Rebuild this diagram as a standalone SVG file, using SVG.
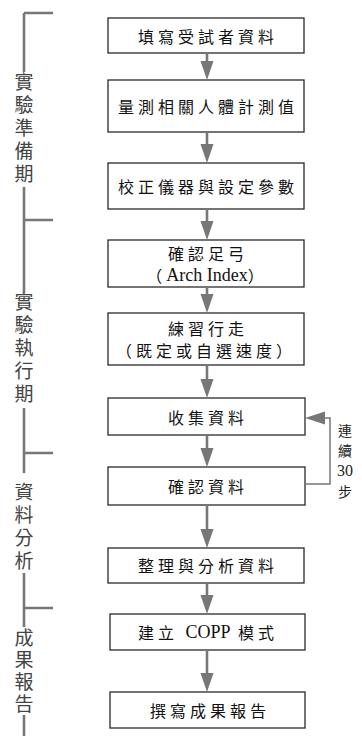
<svg xmlns="http://www.w3.org/2000/svg" width="362" height="736" viewBox="0 0 362 736">
<style>
.box{fill:#fff;stroke:#2a2a2a;stroke-width:1.3}
.t{font-family:"Noto Sans CJK TC","Noto Sans CJK SC",sans-serif;font-size:16px;fill:#111;letter-spacing:4px;text-anchor:middle;dominant-baseline:central}
.lat{font-family:"Liberation Serif",serif;font-size:18px;letter-spacing:0}
.lbl{font-family:"Noto Sans CJK TC","Noto Sans CJK SC",sans-serif;font-size:19px;fill:#444;writing-mode:vertical-rl;letter-spacing:4px}
.side{font-family:"Noto Sans CJK TC","Noto Sans CJK SC",sans-serif;font-size:14px;fill:#222;text-anchor:middle;dominant-baseline:central}
.br{stroke:#777;stroke-width:2.6;fill:none}
.ln{stroke:#777;stroke-width:2.6;fill:none}
.fb{stroke:#777;stroke-width:1.5;fill:none}
.hd{fill:#777}
</style>
<g id="bracket">
<path class="br" d="M24,13H53M24,13V72M24,187V293M24,220H53M24,408V473M24,453H53M24,573V627M24,608H53M24,715V736"/>
<text class="lbl" x="24" y="72.5">實驗準備期</text>
<text class="lbl" x="24" y="292.5">實驗執行期</text>
<text class="lbl" x="24" y="482.5">資料分析</text>
<text class="lbl" x="24" y="628.5" style="letter-spacing:3px">成果報告</text>
</g>
<g id="n1"><rect class="box" x="108" y="18" width="196" height="35"/><text class="t" x="208" y="36">填寫受試者資料</text></g>
<g id="n2"><rect class="box" x="108" y="80" width="196" height="52"/><text class="t" x="208" y="106">量測相關人體計測值</text></g>
<g id="n3"><rect class="box" x="108" y="163" width="196" height="46"/><text class="t" x="208" y="186">校正儀器與設定參數</text></g>
<g id="n4"><rect class="box" x="108" y="240" width="196" height="47"/><text class="t" x="208" y="253">確認足弓</text><text class="t" x="207" y="275">（<tspan class="lat">Arch Index</tspan>）</text></g>
<g id="n5"><rect class="box" x="108" y="313" width="196" height="52"/><text class="t" x="208" y="328">練習行走</text><text class="t" x="206" y="350">（既定或自選速度）</text></g>
<g id="n6"><rect class="box" x="108" y="398" width="197" height="37"/><text class="t" x="208" y="417">收集資料</text></g>
<g id="n7"><rect class="box" x="108" y="467" width="197" height="38"/><text class="t" x="208" y="486">確認資料</text></g>
<g id="n8"><rect class="box" x="108" y="548" width="196" height="35"/><text class="t" x="208" y="565">整理與分析資料</text></g>
<g id="n9"><rect class="box" x="110" y="614" width="195" height="36"/><text class="t" x="208" y="632">建立 <tspan class="lat">COPP</tspan> 模式</text></g>
<g id="n10"><rect class="box" x="110" y="692" width="195" height="36"/><text class="t" x="210" y="710">撰寫成果報告</text></g>
<g id="connectors">
<path class="ln" d="M207,53V62M207,132V145M207,209V222M207,287V295M207,365V380M207,435V449M207,505V530M207,583V596M207,650V674"/>
<path class="hd" d="M200.5,61H213.5L207,80ZM200.5,144H213.5L207,163ZM200.5,221H213.5L207,240ZM200.5,294H213.5L207,313ZM200.5,379H213.5L207,398ZM200.5,448H213.5L207,467ZM200.5,529H213.5L207,548ZM200.5,595H213.5L207,614ZM200.5,673H213.5L207,692Z"/>
<path class="fb" d="M305,484H330V418H324"/>
<path class="hd" d="M325,411.5V424.5L305,418Z"/>
</g>
<g id="note"><text class="side" x="345" y="430">連</text><text class="side" x="345" y="450">續</text><text class="side" x="345" y="470" style="font-family:'Liberation Serif',serif;font-size:16px">30</text><text class="side" x="345" y="491">步</text></g>
</svg>
